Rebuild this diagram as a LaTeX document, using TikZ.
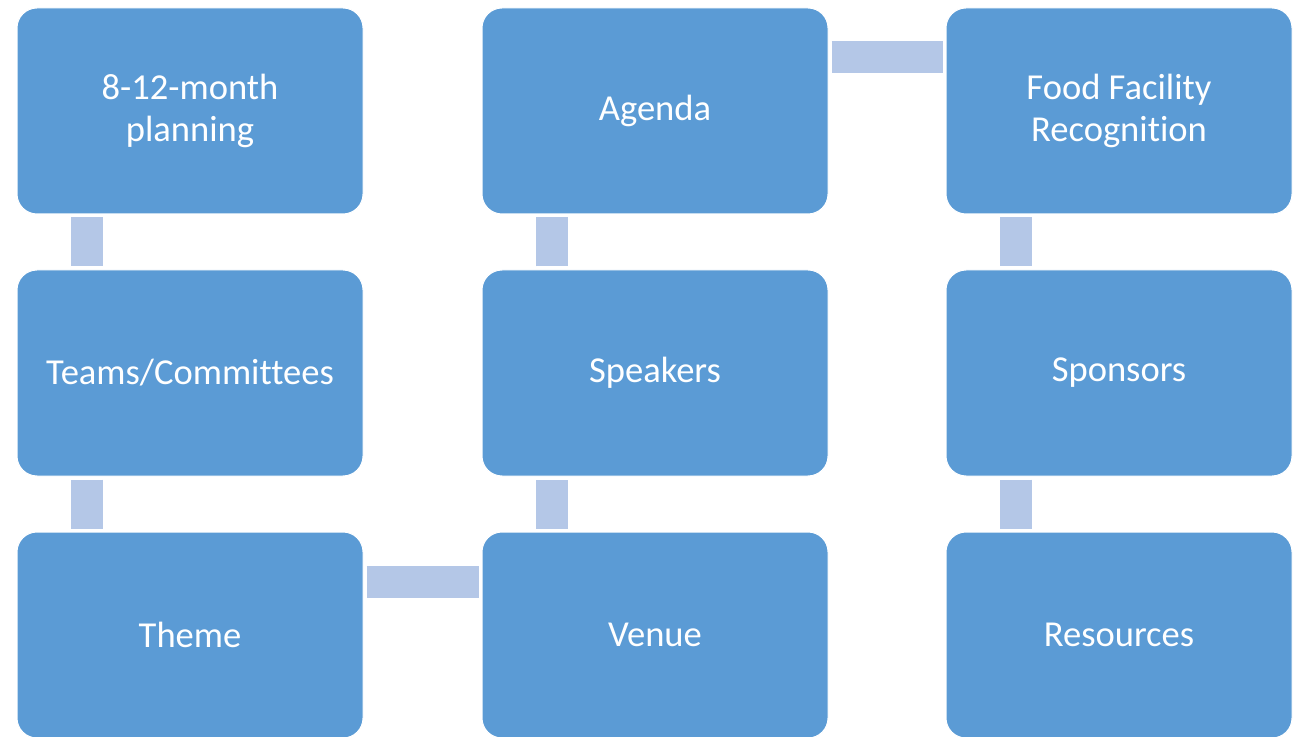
\documentclass[tikz,border=0pt]{standalone}
\usepackage{fontspec}
\setmainfont{Carlito}[Ligatures={NoCommon}]
\usepackage{tikz}
\usetikzlibrary{calc}
\definecolor{boxblue}{HTML}{5B9BD5}
\definecolor{linkblue}{HTML}{B4C7E7}
\tikzset{
	stage/.style={rectangle, rounded corners=0.4cm, fill=boxblue, draw=white, line width=0.2mm,
		minimum width=6.92cm, minimum height=4.12cm, text=white, align=center,
		font=\fontsize{20.8}{24}\selectfont},
	link/.style={draw=linkblue, line width=0.64cm, shorten <=0.06cm, shorten >=0.06cm}
}

\begin{document}
\begin{tikzpicture}
		%%%%% START %%%%%
		
		\useasboundingbox (0, 0) rectangle (26.02, 14.72);
		
		\node[stage] (plan) at (3.8, 12.5) {8-12-month\\planning};
		\node[stage] (teams) at (3.8, 7.26) {Teams/Committees};
		\node[stage] (theme) at (3.8, 2.02) {Theme};
		
		\node[stage] (venue) at (13.1, 2.02) {Venue};
		\node[stage] (speakers) at (13.1, 7.26) {Speakers};
		\node[stage] (agenda) at (13.1, 12.5) {Agenda};
		
		\node[stage] (food) at (22.38, 12.5) {Food Facility\\Recognition};
		\node[stage] (sponsors) at (22.38, 7.26) {Sponsors};
		\node[stage] (resources) at (22.38, 2.02) {Resources};
		
		\draw[link] ([xshift=1.4cm]plan.south west) -- ([xshift=1.4cm]teams.north west);
		\draw[link] ([xshift=1.4cm]teams.south west) -- ([xshift=1.4cm]theme.north west);
		\draw[link] ([yshift=-1cm]theme.north east) -- ([yshift=-1cm]venue.north west);
		\draw[link] ([xshift=1.4cm]venue.north west) -- ([xshift=1.4cm]speakers.south west);
		\draw[link] ([xshift=1.4cm]speakers.north west) -- ([xshift=1.4cm]agenda.south west);
		\draw[link] ([yshift=-1cm]agenda.north east) -- ([yshift=-1cm]food.north west);
		\draw[link] ([xshift=1.4cm]food.south west) -- ([xshift=1.4cm]sponsors.north west);
		\draw[link] ([xshift=1.4cm]sponsors.south west) -- ([xshift=1.4cm]resources.north west);
		
		%%%%% END %%%%%
	\end{tikzpicture}
\end{document}
